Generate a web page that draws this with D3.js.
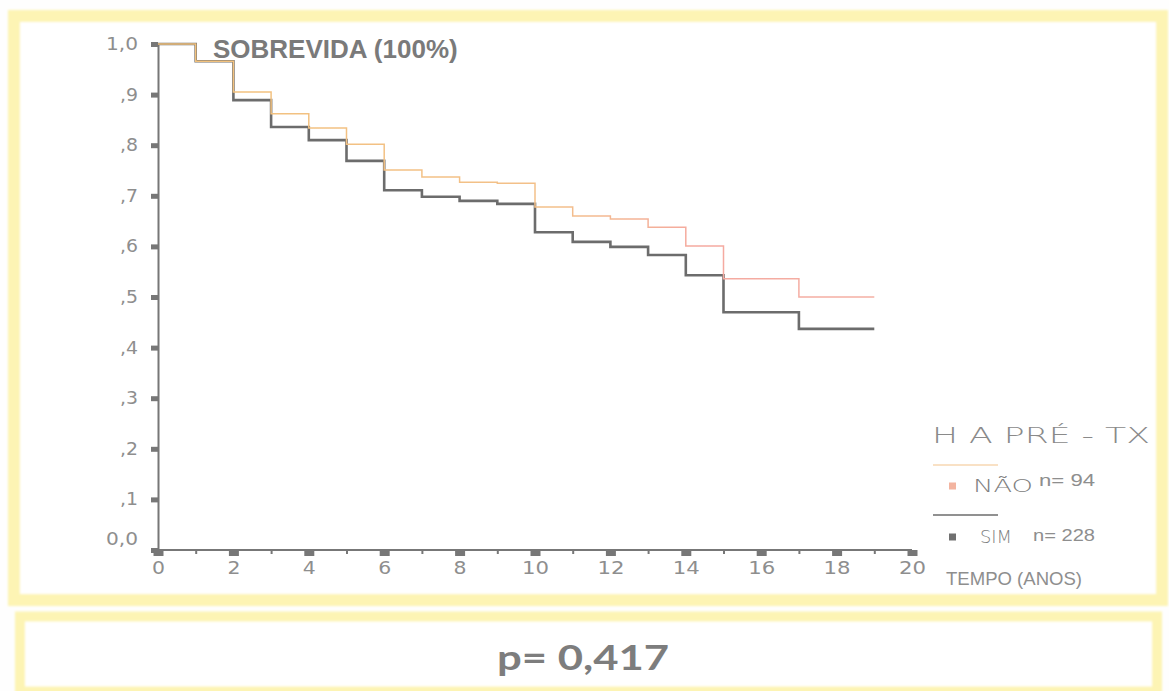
<!DOCTYPE html>
<html>
<head>
<meta charset="utf-8">
<script src="https://cdn.jsdelivr.net/npm/d3@7"></script>
<style>
  html, body { margin: 0; padding: 0; background: #fefefe; }
  svg { display: block; }
</style>
</head>
<body>
<svg id="chart" width="1169" height="691"></svg>
<script>
// Kaplan-Meier survival by pre-transplant hypertension (H A PRÉ-TX)
const years = [0, 1, 2, 3, 4, 5, 6, 7, 8, 9, 10, 11, 12, 13, 14, 15, 16, 17, 18];
const endYear = 19;
const survNao = [1.0, 0.966, 0.905, 0.862, 0.834, 0.802, 0.751, 0.737, 0.727, 0.725,
                 0.678, 0.660, 0.654, 0.638, 0.601, 0.536, 0.536, 0.500, 0.500];
const survSim = [1.0, 0.966, 0.889, 0.836, 0.810, 0.769, 0.711, 0.698, 0.690, 0.684,
                 0.628, 0.609, 0.599, 0.583, 0.543, 0.470, 0.470, 0.437, 0.437];
const yTicks = [0, 0.1, 0.2, 0.3, 0.4, 0.5, 0.6, 0.7, 0.8, 0.9, 1.0];
const yTickLabels = ["0,0", ",1", ",2", ",3", ",4", ",5", ",6", ",7", ",8", ",9", "1,0"];
const xMajor = [0, 2, 4, 6, 8, 10, 12, 14, 16, 18, 20];
const xMinor = [1, 3, 5, 7, 9, 11, 13, 15, 17, 19];
const groups = ["NÃO", "SIM"];
const groupN = ["n= 94", "n= 228"];
const pValue = "p= 0,417";

const svg = d3.select("#chart");
const gray = "#777";
const yellow = "#fdf4b4";
const labelGray = "#8e8e8e";

// Wide, blocky tick numerals: each digit gets a fixed advance, commas a narrow one
const labelWidth = s => s.split("").reduce((w, c) => w + (c === "," ? 5 : 14), 0) - 1;

const defs = svg.append("defs");
defs.append("filter").attr("id", "soft")
  .append("feGaussianBlur").attr("stdDeviation", 0.8);
const grad = defs.append("linearGradient").attr("id", "naoGrad")
  .attr("gradientUnits", "userSpaceOnUse")
  .attr("x1", 158).attr("x2", 880).attr("y1", 0).attr("y2", 0);
grad.append("stop").attr("offset", "0%").attr("stop-color", "#f2c27c");
grad.append("stop").attr("offset", "55%").attr("stop-color", "#f3c08a");
grad.append("stop").attr("offset", "75%").attr("stop-color", "#f5a9a0");
grad.append("stop").attr("offset", "100%").attr("stop-color", "#f4b0a4");

// Framed panels
svg.append("rect").attr("x", 14).attr("y", 16).attr("width", 1148).attr("height", 584)
  .attr("fill", "#fff").attr("stroke", yellow).attr("stroke-width", 12)
  .attr("filter", "url(#soft)");
svg.append("rect").attr("x", 20).attr("y", 616.5).attr("width", 1137).attr("height", 75)
  .attr("fill", "#fff").attr("stroke", yellow).attr("stroke-width", 10)
  .attr("filter", "url(#soft)");

// Scales
const x = d3.scaleLinear().domain([0, 20]).range([158, 912]);
const y = d3.scaleLinear().domain([0, 1]).range([550, 44]);

// Y axis
const yAxis = svg.append("g").attr("transform", `translate(${x(0)},0)`)
  .call(d3.axisLeft(y).tickValues(yTicks)
    .tickFormat((d, i) => yTickLabels[i])
    .tickSize(7).tickSizeOuter(0).tickPadding(13));
yAxis.select(".domain").attr("stroke", gray).attr("stroke-width", 2);
yAxis.selectAll(".tick line").attr("stroke", gray).attr("stroke-width", 5);
yAxis.selectAll(".tick text")
  .attr("fill", labelGray).attr("font-family", "DejaVu Sans")
  .attr("font-size", 17)
  .attr("textLength", function () { return labelWidth(this.textContent); })
  .attr("lengthAdjust", "spacingAndGlyphs")
  .attr("dy", (d) => d === 0 ? "-0.3em" : "0.32em");

// X axis: minor ticks then major ticks
const xMinorAxis = svg.append("g").attr("transform", `translate(0,${y(0)})`)
  .call(d3.axisBottom(x).tickValues(xMinor).tickFormat("").tickSize(4).tickSizeOuter(0));
xMinorAxis.select(".domain").remove();
xMinorAxis.selectAll(".tick line").attr("stroke", gray).attr("stroke-width", 2);

const xAxis = svg.append("g").attr("transform", `translate(0,${y(0)})`)
  .call(d3.axisBottom(x).tickValues(xMajor).tickFormat(d3.format("d"))
    .tickSize(6).tickSizeOuter(0).tickPadding(6));
xAxis.select(".domain").attr("stroke", gray).attr("stroke-width", 2)
  .attr("d", `M${x(0) - 6},0H${x(20)}`);
xAxis.selectAll(".tick line").attr("stroke", gray).attr("stroke-width", 10);
xAxis.selectAll(".tick text")
  .attr("fill", labelGray).attr("font-family", "DejaVu Sans")
  .attr("font-size", 17)
  .attr("textLength", function () { return labelWidth(this.textContent); })
  .attr("lengthAdjust", "spacingAndGlyphs");

// Survival step curves
const stepLine = d3.line().x(d => x(d[0])).y(d => y(d[1])).curve(d3.curveStepAfter);
const toPoints = vals => years.map((t, i) => [t, vals[i]]).concat([[endYear, vals[vals.length - 1]]]);

svg.append("path").datum(toPoints(survSim))
  .attr("d", stepLine).attr("fill", "none")
  .attr("stroke", "#6c6c6c").attr("stroke-width", 2.6);
svg.append("path").datum(toPoints(survNao))
  .attr("d", stepLine).attr("fill", "none")
  .attr("stroke", "url(#naoGrad)").attr("stroke-width", 1.5);

// Title
svg.append("text").attr("x", 213).attr("y", 58)
  .attr("font-family", "Liberation Sans, Arial, sans-serif").attr("font-weight", "bold")
  .attr("font-size", 26).attr("fill", "#7a7a7a")
  .text("SOBREVIDA (100%)");

// Legend
svg.append("text").attr("x", 932).attr("y", 443)
  .attr("font-family", "DejaVu Sans").attr("font-weight", 200)
  .attr("font-size", 22).attr("fill", "#8a8a8a")
  .attr("textLength", 218).attr("lengthAdjust", "spacingAndGlyphs")
  .text("H A  PRÉ - TX");

const legendColors = ["#f3b4a0", "#707070"];
const legendLineY = [465, 515];
const legendRowY = [486, 537];
const legendNY = [480, 535];
const legendTextX = [973, 980];
const legendTextW = [60, 32];
const legendNX = [1039, 1033];
const legendNW = [56, 62];

groups.forEach((g, i) => {
  svg.append("line")
    .attr("x1", 933).attr("x2", 998)
    .attr("y1", legendLineY[i]).attr("y2", legendLineY[i])
    .attr("stroke", i === 0 ? "#f3c48c" : "#6c6c6c")
    .attr("stroke-width", i === 0 ? 1.2 : 1.6);
  svg.append("rect").attr("x", 949).attr("y", legendRowY[i] - 3.5)
    .attr("width", 7).attr("height", 7).attr("fill", legendColors[i]);
  svg.append("text").attr("x", legendTextX[i]).attr("y", legendRowY[i] + 6)
    .attr("font-family", "DejaVu Sans").attr("font-weight", 200).attr("font-size", 17)
    .attr("fill", "#808080")
    .attr("textLength", legendTextW[i]).attr("lengthAdjust", "spacingAndGlyphs")
    .text(g);
  svg.append("text").attr("x", legendNX[i]).attr("y", legendNY[i] + 6)
    .attr("font-family", "Liberation Sans, Arial, sans-serif").attr("font-size", 16)
    .attr("fill", labelGray)
    .attr("textLength", legendNW[i]).attr("lengthAdjust", "spacingAndGlyphs")
    .text(groupN[i]);
});

// X axis title
svg.append("text").attr("x", 946).attr("y", 585)
  .attr("font-family", "Liberation Sans, Arial, sans-serif").attr("font-size", 19)
  .attr("fill", labelGray)
  .attr("textLength", 136).attr("lengthAdjust", "spacingAndGlyphs")
  .text("TEMPO (ANOS)");

// Log-rank p-value
svg.append("text").attr("x", 497).attr("y", 670)
  .attr("font-family", "Lato, 'Open Sans', sans-serif").attr("font-weight", "bold")
  .attr("font-size", 34).attr("fill", "#7d7d7d")
  .attr("textLength", 172).attr("lengthAdjust", "spacingAndGlyphs")
  .text(pValue);
</script>
</body>
</html>
